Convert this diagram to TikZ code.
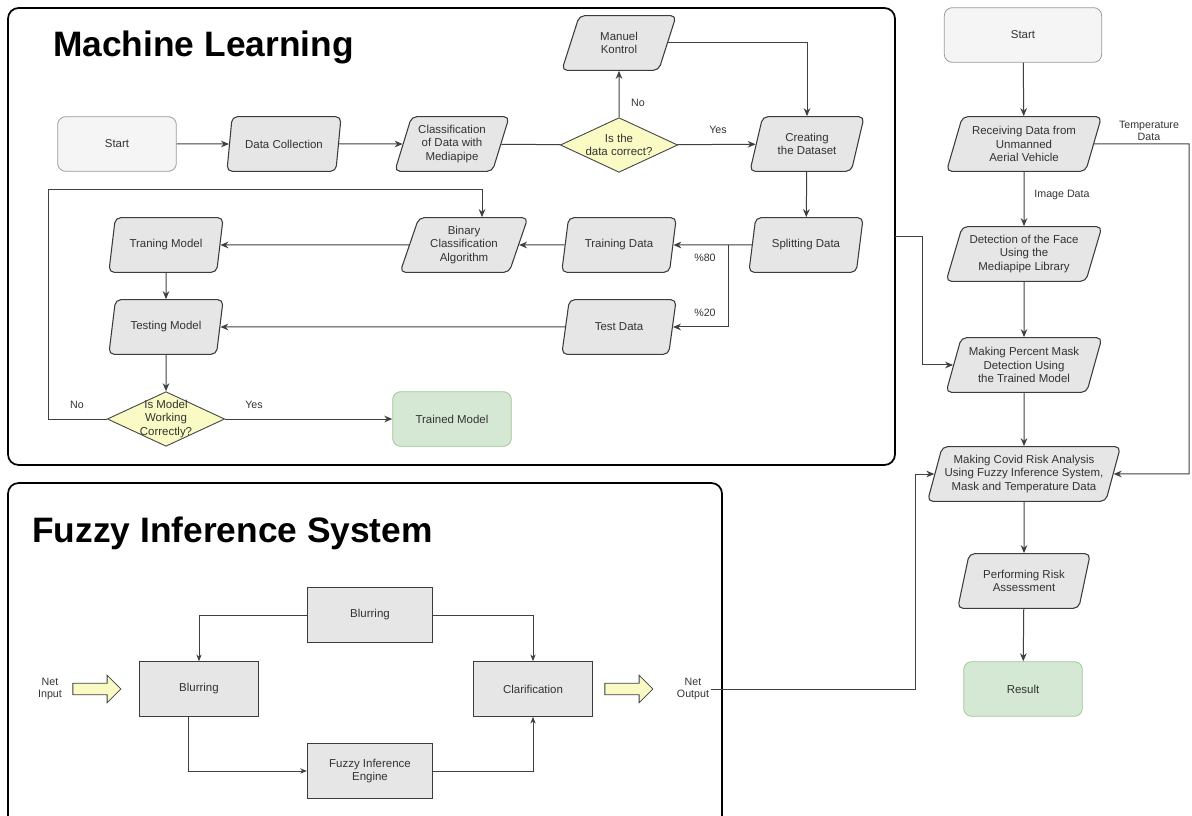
\documentclass[tikz,border=0pt]{standalone}
\usepackage{fontspec}
\setmainfont{Liberation Sans}
\usetikzlibrary{positioning,shapes.geometric,shapes.arrows,arrows.meta}

\definecolor{procfill}{HTML}{E6E6E6}
\definecolor{procline}{HTML}{3C3C3C}
\definecolor{startfill}{HTML}{F5F5F5}
\definecolor{startline}{HTML}{9A9A9A}
\definecolor{decfill}{HTML}{FAFAC4}
\definecolor{decline}{HTML}{4A4A4A}
\definecolor{endfill}{HTML}{D5E8D4}
\definecolor{endline}{HTML}{A3C794}
\definecolor{linegray}{HTML}{404040}
\definecolor{txtgray}{HTML}{333333}

\tikzset{
    base/.style={font=\fontsize{8.6}{10}\selectfont, text=txtgray, align=center, inner sep=1pt},
    proc/.style={base, trapezium, trapezium left angle=70, trapezium right angle=110,
        trapezium stretches=true, draw=procline, fill=procfill, rounded corners=4pt,
        line width=0.8pt, minimum width=86pt, minimum height=41pt},
    term/.style={base, rectangle, rounded corners=6pt, draw=startline, fill=startfill,
        line width=0.6pt, minimum width=89pt, minimum height=41pt},
    done/.style={term, draw=endline, fill=endfill},
    decision/.style={base, diamond, draw=decline, fill=decfill, line width=0.7pt,
        inner sep=0pt, minimum width=88pt, minimum height=41pt},
    fisbox/.style={base, rectangle, draw=procline, fill=procfill, line width=0.8pt,
        minimum width=89pt, minimum height=41pt},
    bigarrow/.style={single arrow, draw=linegray, fill=decfill, line width=0.6pt,
        inner xsep=0pt, inner ysep=4pt, minimum height=36pt, minimum width=20pt,
        single arrow head extend=6pt, single arrow head indent=0pt},
    arr/.style={draw=linegray, line width=0.75pt, -{Stealth[length=6pt,width=5pt]}},
    fisarr/.style={draw=linegray, line width=0.6pt, -{Stealth[length=5pt,width=4pt]}},
    lbl/.style={font=\fontsize{8}{9.5}\selectfont, text=txtgray, align=center, inner sep=1pt},
    frame/.style={draw=black, line width=1.3pt, rounded corners=8pt},
    heading/.style={font=\fontsize{26.5}{30}\selectfont\bfseries, anchor=base west, inner sep=0pt}
}

\begin{document}
\begin{tikzpicture}[x=0.75pt,y=-0.75pt]
    \useasboundingbox (0,0) rectangle (1192,816);

    % frames
    \draw[frame] (8,8) rectangle (895,465);
    \draw[frame] (8,822) |- (722,483) -- (722,822);
    \node[heading] (mlt) at (53,57) {Machine Learning};
    \node[heading] (fist) at (32,542) {Fuzzy Inference System};

    % machine learning
    \node[term] (st1) at (117,144) {Start};
    \node[proc] (dc) at (284,144) {Data Collection};
    \node[proc] (cls) at (452,144) {Classification\\of Data with\\Mediapipe};
    \node[decision, label={[base]center:Is the\\data correct?}] (chk) at (619,145) {};
    \node[proc] (mk) at (619,43) {Manuel\\Kontrol};
    \node[proc] (cds) at (807,144) {Creating\\the Dataset};
    \node[proc] (spl) at (806,245) {Splitting Data};
    \node[proc] (trd) at (619,245) {Training Data};
    \node[proc] (ted) at (619,327) {Test Data};
    \node[proc, minimum width=96pt] (bca) at (464,245) {Binary\\Classification\\Algorithm};
    \node[proc] (trm) at (166,245) {Traning Model};
    \node[proc] (tsm) at (166,327) {Testing Model};
    \node[decision, label={[base]center:Is Model\\Working\\Correctly?}] (mwc) at (166,419) {};
    \node[done] (tmd) at (452,419) {Trained Model};

    \draw[arr] (st1) -- (dc);
    \draw[arr] (dc) -- (cls);
    \draw[draw=linegray, line width=0.75pt] (cls) -- (chk);
    \draw[arr] (chk) -- (mk);
    \node[lbl] (no1) at (638,103) {No};
    \draw[arr] (chk) -- (cds);
    \node[lbl] (yes1) at (718,130) {Yes};
    \draw[arr] (mk) -| (cds);
    \draw[arr] (cds) -- (spl);
    \coordinate (j1) at (728,245);
    \draw[arr] (spl) -- (trd);
    \draw[arr] (j1) |- (ted);
    \node[lbl] (p80) at (705,258) {\%80};
    \node[lbl] (p20) at (705,313) {\%20};
    \draw[arr] (trd) -- (bca);
    \draw[arr] (bca) -- (trm);
    \draw[arr] (ted) -- (tsm);
    \draw[arr] (trm) -- (tsm);
    \draw[arr] (tsm) -- (mwc);
    \draw[arr] (mwc) -- (tmd);
    \node[lbl] (yes2) at (254,405) {Yes};
    \coordinate (l1) at (48,190);
    \coordinate (l2) at (482,190);
    \draw[arr] (mwc) -| (l1) -- (l2) -- (l2 |- bca.north);
    \node[lbl] (no2) at (77,405) {No};

    % main flow
    \node[term, minimum width=118pt] (st2) at (1023,35) {Start};
    \node[proc, minimum width=117pt] (rcv) at (1024,144) {Receiving Data from\\Unmanned\\Aerial Vehicle};
    \node[proc, minimum width=117pt] (dtf) at (1024,254) {Detection of the Face\\Using the\\Mediapipe Library};
    \node[proc, minimum width=117pt] (pmd) at (1024,365) {Making Percent Mask\\Detection Using\\the Trained Model};
    \node[proc, minimum width=145pt] (cra) at (1024,474) {Making Covid Risk Analysis\\Using Fuzzy Inference System,\\Mask and Temperature Data};
    \node[proc, minimum width=100pt] (pra) at (1024,581) {Performing Risk\\Assessment};
    \node[done] (res) at (1023,689) {Result};

    \draw[arr] (st2) -- (rcv);
    \draw[arr] (rcv) -- (dtf);
    \node[lbl] (imd) at (1062,195) {Image Data};
    \draw[arr] (dtf) -- (pmd);
    \draw[arr] (pmd) -- (cra);
    \draw[arr] (cra) -- (pra);
    \draw[arr] (pra) -- (res);
    \coordinate (k2) at (1189,144);
    \draw[arr] (rcv) -- (k2) |- (cra);
    \node[lbl] (tmp) at (1149,131) {Temperature\\Data};
    \coordinate (k0) at (895,237);
    \coordinate (k1) at (922,237);
    \draw[arr] (k0) -- (k1) |- (pmd);

    % fuzzy inference system
    \node[fisbox, minimum width=94pt] (bt) at (370,615) {Blurring};
    \node[fisbox] (bl) at (199,689) {Blurring};
    \node[fisbox] (cl) at (533,689) {Clarification};
    \node[fisbox, minimum width=94pt] (fe) at (370,771) {Fuzzy Inference\\Engine};
    \node[bigarrow] (ain) at (94,689) {};
    \node[bigarrow] (aout) at (626,689) {};
    \node[lbl] (nin) at (50,689) {Net\\Input};
    \node[lbl] (nout) at (693,689) {Net\\Output};

    \draw[fisarr] (bt) -| (bl);
    \draw[fisarr] (bt) -| (cl);
    \draw[fisarr] ([xshift=-8pt]bl.south) |- (fe);
    \draw[fisarr] (fe) -| (cl);
    \coordinate (k3) at (915,689);
    \draw[arr] (nout) -- (k3) |- (cra);
\end{tikzpicture}
\end{document}
